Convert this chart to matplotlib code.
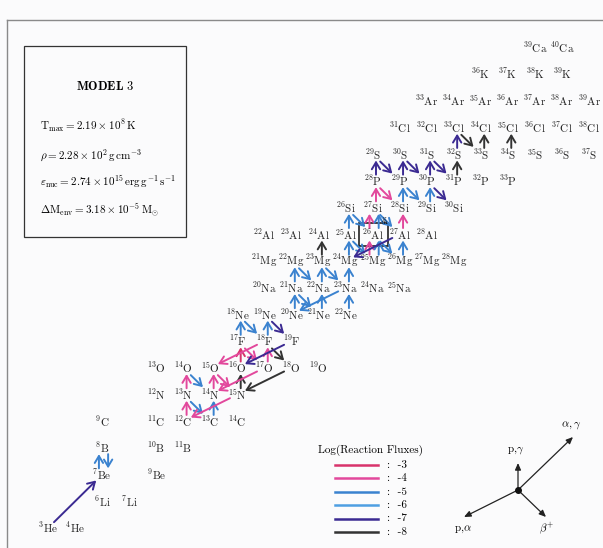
import re

import matplotlib
matplotlib.use('Agg')
import matplotlib.pyplot as plt
from matplotlib.patches import FancyArrowPatch, Rectangle

plt.rcParams['mathtext.fontset'] = 'cm'
plt.rcParams['font.family'] = ['cmr10', 'DejaVu Serif']
plt.rcParams['axes.formatter.use_mathtext'] = True

# one row per element, mass numbers shown on that row
elem_sym = ['He', 'Li', 'Be', 'B', 'C', 'N', 'O', 'F', 'Ne', 'Na',
            'Mg', 'Al', 'Si', 'P', 'S', 'Cl', 'Ar', 'K', 'Ca']
elem_Z = [2, 3, 4, 5, 6, 7, 8, 9, 10, 11, 12, 13, 14, 15, 16, 17, 18, 19, 20]
row_A = [
    [3, 4],
    [6, 7],
    [7, 9],
    [8, 10, 11],
    [9, 11, 12, 13, 14],
    [12, 13, 14, 15],
    [13, 14, 15, 16, 17, 18, 19],
    [17, 18, 19],
    [18, 19, 20, 21, 22],
    [20, 21, 22, 23, 24, 25],
    [21, 22, 23, 24, 25, 26, 27, 28],
    [22, 23, 24, 25, 26, 27, 28],
    [26, 27, 28, 29, 30],
    [28, 29, 30, 31, 32, 33],
    [29, 30, 31, 32, 33, 34, 35, 36, 37],
    [31, 32, 33, 34, 35, 36, 37, 38],
    [33, 34, 35, 36, 37, 38, 39],
    [36, 37, 38, 39],
    [39, 40],
]

# reactions: (target nucleus, reaction, log flux)
pp_rx = [('3He', 'ag', -7), ('7Be', 'pg', -5), ('8B', 'gp', -5)]
cno_rx = [
    ('12C', 'pg', -4), ('13N', 'bp', -5), ('13C', 'pg', -5), ('14N', 'pg', -4),
    ('15O', 'bp', -4), ('15N', 'pa', -4), ('15N', 'pg', -8), ('13N', 'pg', -4),
    ('14O', 'bp', -5), ('16O', 'pg', -3), ('17F', 'bp', -4), ('17O', 'pg', -4),
    ('17O', 'pa', -4), ('18F', 'pa', -4), ('18F', 'bp', -8), ('18O', 'pa', -8),
    ('19F', 'pa', -7), ('19Ne', 'bp', -7), ('17F', 'pg', -5), ('18Ne', 'bp', -5),
    ('18F', 'pg', -5),
]
nena_rx = [
    ('20Ne', 'pg', -5), ('21Na', 'bp', -5), ('21Ne', 'pg', -5), ('22Ne', 'pg', -5),
    ('23Na', 'pa', -5), ('21Na', 'pg', -5), ('22Mg', 'bp', -5), ('22Na', 'pg', -5),
    ('23Mg', 'bp', -5), ('23Na', 'pg', -5), ('23Mg', 'pg', -8),
]
mgal_rx = [
    ('24Mg', 'pg', -5), ('25Al', 'bp', -5), ('25Al', 'pg', -5), ('26Si', 'bp', -5),
    ('25Mg', 'pg', -4), ('25Mg', 'pg', -5), ('26Al', 'bp', -5), ('26Mg', 'pg', -5),
    ('26Al', 'pg', -4), ('26Al', 'pg', -5), ('27Si', 'bp', -5), ('27Al', 'pg', -4),
    ('27Al', 'pa', -7),
]
sips_rx = [
    ('27Si', 'pg', -4), ('28P', 'bp', -4), ('28Si', 'pg', -5), ('29P', 'bp', -5),
    ('29Si', 'pg', -5), ('30P', 'bp', -7), ('28P', 'pg', -7), ('29S', 'bp', -7),
    ('29P', 'pg', -7), ('30S', 'bp', -7), ('30P', 'pg', -7), ('31S', 'bp', -7),
    ('31P', 'pg', -8), ('32S', 'pg', -7), ('33Cl', 'bp', -8), ('33S', 'pg', -8),
    ('34S', 'pg', -8),
]

flux_levels = [-3, -4, -5, -6, -7, -8]
flux_colors = ['#d8336b', '#e2489c', '#3a82cf', '#4e9fe2', '#3b2a92', '#333333']

model_lines = [
    r'$\mathrm{T_{max}} = 2.19 \times 10^{8}\,\mathrm{K}$',
    r'$\rho = 2.28 \times 10^{2}\,\mathrm{g\,cm^{-3}}$',
    r'$\varepsilon_{\rm nuc} = 2.74 \times 10^{15}\,\mathrm{erg\,g^{-1}\,s^{-1}}$',
    r'$\Delta\mathrm{M_{env}} = 3.18 \times 10^{-5}\,\mathrm{M_{\odot}}$',
]

steps = {'pg': (0, 1), 'gp': (0, -1), 'bp': (1, -1), 'pa': (-2, -1), 'ag': (2, 2)}
shrinks = {'pg': 4.5, 'gp': 4.5, 'bp': 7.5, 'pa': 6.0, 'ag': 6.0}


def nucl(name):
    m = re.match(r'(\d+)([A-Za-z]+)', name)
    A = int(m.group(1))
    Z = elem_Z[elem_sym.index(m.group(2))]
    return A - Z, Z


fig = plt.figure(figsize=(6.03, 5.48), dpi=100)
fig.patch.set_facecolor('#fbfbfc')

# pixel-space layer for frames, legend and key
deco = fig.add_axes([0, 0, 1, 1])
deco.set_xlim(0, 603)
deco.set_ylim(548, 0)
deco.axis('off')

# chart layer: x = neutron number, y = proton number
ax = fig.add_axes([0, 0, 1, 1])
ax.set_xlim(-0.776, 21.51)
ax.set_ylim(1.251, 21.775)
ax.axis('off')
ax.patch.set_alpha(0)

for sym, Z, masses in zip(elem_sym, elem_Z, row_A):
    for A in masses:
        ax.text(A - Z, Z, r'$^{%d}$%s' % (A, sym), ha='center',
                va='center', fontsize=8, color='#222222')

# 26Al box with ground / isomeric state marks
N26, Z26 = nucl('26Al')
ax.add_patch(Rectangle((N26 - 0.52, Z26 - 0.44), 1.07, 0.86, fill=False,
                       lw=1.2, ec='#222222'))
ax.text(N26 + 0.42, Z26 + 0.62, 'g', fontsize=5, ha='center', va='center',
        fontweight='bold')
ax.text(N26 + 0.42, Z26 + 0.44, 'm', fontsize=4.5, ha='center', va='center')

all_rx = pp_rx + cno_rx + nena_rx + mgal_rx + sips_rx

# vertical arrows sharing the same gap are drawn side by side
vert = {}
for r in all_rx:
    if r[1] in ('pg', 'gp'):
        N, Z = nucl(r[0])
        key = (N, Z if r[1] == 'pg' else Z - 1)
        vert.setdefault(key, []).append(r)

for r in all_rx:
    name, kind, flux = r
    N, Z = nucl(name)
    dN, dZ = steps[kind]
    dx = 0.0
    if kind in ('pg', 'gp'):
        grp = vert[(N, Z if kind == 'pg' else Z - 1)]
        if len(grp) == 1:
            dx = 0.12
        else:
            dx = [-0.12, 0.22][grp.index(r)]
    col = flux_colors[flux_levels.index(flux)]
    arr = FancyArrowPatch((N + dx, Z), (N + dN + dx, Z + dZ),
                          arrowstyle='->,head_length=0.5,head_width=0.3',
                          mutation_scale=10, lw=1.4, color=col,
                          shrinkA=shrinks[kind], shrinkB=shrinks[kind])
    ax.add_patch(arr)

# outer frame
deco.plot([7, 603], [20, 20], color='#8a8a8a', lw=1.0)
deco.plot([7, 7], [20, 548], color='#8a8a8a', lw=1.0)

# model box
deco.add_patch(Rectangle((24, 46), 162, 191, fill=False, lw=0.9, ec='#333333'))
deco.text(105, 86, r'$\mathbf{MODEL\ 3}$', ha='center', va='center', fontsize=9)
for i, s in enumerate(model_lines):
    deco.text(40, [126, 156, 182, 210][i], s, ha='left', va='center', fontsize=8)

# legend
deco.text(370, 450, 'Log(Reaction Fluxes)', ha='center', va='center', fontsize=8)
for i, (lev, col) in enumerate(zip(flux_levels, flux_colors)):
    yy = 465 + 13.4 * i
    deco.plot([335, 378], [yy, yy], color=col, lw=1.8)
    deco.text(387, yy, ':  %d' % lev, ha='left', va='center', fontsize=8)

# reaction key
cx, cy = 518, 490
key_tips = [(518, 463), (573, 437), (464, 517), (546, 517)]
key_text = [r'p,$\gamma$', r'$\alpha,\gamma$', r'p,$\alpha$', r'$\beta^{+}$']
key_lab = [(516, 451), (571, 425), (463, 529), (547, 529)]
for (tx, ty), s, (lx, ly) in zip(key_tips, key_text, key_lab):
    deco.add_patch(FancyArrowPatch((cx, cy), (tx, ty),
                                   arrowstyle='-|>,head_length=0.5,head_width=0.22',
                                   mutation_scale=8, lw=0.9, color='#222222',
                                   shrinkA=0, shrinkB=0))
    deco.text(lx, ly, s, ha='center', va='center', fontsize=8)
deco.plot([cx], [cy], 'o', color='#111111', ms=4)

fig.savefig('out.png', dpi=100, facecolor=fig.get_facecolor())
